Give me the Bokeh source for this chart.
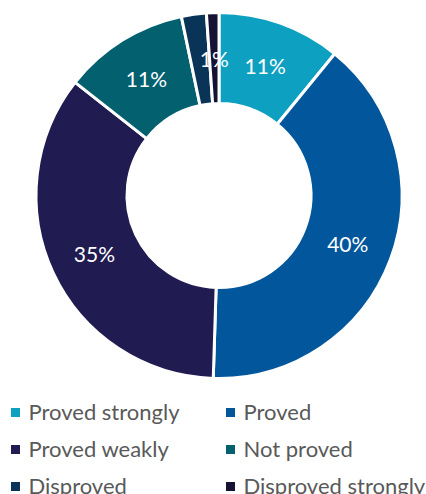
import numpy as np
from bokeh.plotting import figure
from bokeh.models import Range1d
from bokeh.core.properties import value
from bokeh.embed import file_html
from bokeh.resources import INLINE

categories = ["Proved strongly", "Proved", "Proved weakly", "Not proved", "Disproved", "Disproved strongly"]
shares = [10.9, 39.6, 35.1, 11.1, 2.2, 1.1]
labels = ["11%", "40%", "35%", "11%", "", "1%"]
colors = ["#0EA0C1", "#02569B", "#201B50", "#03606F", "#0A3358", "#151234"]

W, H = 426, 494
p = figure(width=W, height=H, output_backend="svg", toolbar_location=None,
           x_range=Range1d(0, W), y_range=Range1d(0, H),
           min_border=0)
p.axis.visible = False
p.grid.visible = False
p.outline_line_color = None
p.background_fill_color = "white"
p.border_fill_color = "white"

cx, cy = 218.5, H - 195
r_out, r_in = 183, 92

vals = np.array(shares, dtype=float)
frac = vals / vals.sum()
cum = np.concatenate([[0], np.cumsum(frac)])
start = np.pi / 2 - cum[:-1] * 2 * np.pi
end = np.pi / 2 - cum[1:] * 2 * np.pi

p.annular_wedge(x=cx, y=cy, inner_radius=r_in, outer_radius=r_out,
                start_angle=start, end_angle=end, direction="clock",
                fill_color=colors, line_color="white", line_width=3)

mid = (cum[:-1] + cum[1:]) / 2 * 2 * np.pi
r_lab = (r_in + r_out) / 2
lx = cx + r_lab * np.sin(mid)
ly = cy + r_lab * np.cos(mid)
p.text(x=lx, y=ly, text=labels, text_color="white", text_align="center",
       text_baseline="middle", text_font=value("Lato"), text_font_size="21px")

# legend
col_x = [10, 225]
row_y = [412, 449, 486]
for i, name in enumerate(categories):
    xs = col_x[i % 2]
    ys = H - row_y[i // 2]
    p.rect(x=xs + 5, y=ys, width=9, height=9, fill_color=colors[i], line_color=None)
    p.text(x=[xs + 18], y=[ys + 1], text=[name], text_color="#595959",
           text_baseline="middle", text_align="left",
           text_font=value("Lato"), text_font_size="22px")

open("out.html", "w").write(file_html(p, INLINE))
